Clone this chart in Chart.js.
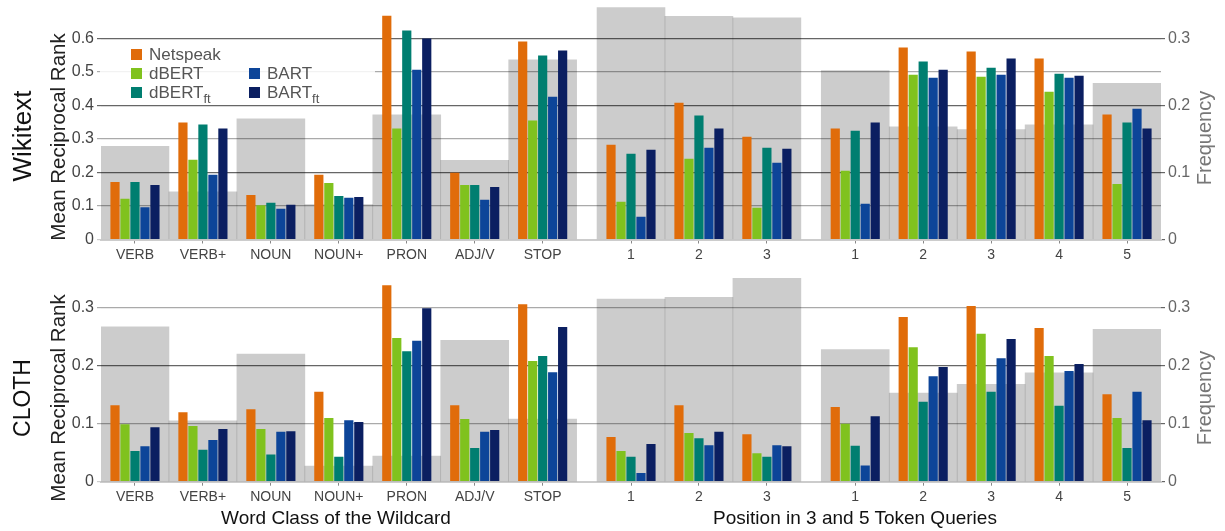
<!DOCTYPE html>
<html>
<head>
<meta charset="utf-8">
<title>MRR per word class and wildcard position</title>
<script src="https://cdn.jsdelivr.net/npm/chart.js@4.4.0/dist/chart.umd.min.js"></script>
<style>
    body { margin: 0; background: #fff; font-family: 'Liberation Sans', Arial, Helvetica, sans-serif; }
    #figure { position: relative; width: 1225px; height: 531px; overflow: hidden; }
    .panel { position: absolute; left: 0; width: 1225px; }
    #panelTop { top: 0; height: 262px; }
    #panelBottom { top: 262px; height: 269px; }
    .label { position: absolute; white-space: nowrap; line-height: 1; transform: translate(-50%, -50%); z-index: 2; }
    .label.rot { transform: translate(-50%, -50%) rotate(-90deg); }
    #legend {
        position: absolute; left: 100px; top: 42px; width: 275px; height: 58px;
        box-sizing: border-box; padding: 3px 0 0 31px;
        background: rgba(255, 255, 255, 0.85);
        display: grid; grid-template-columns: 118px auto; grid-template-rows: repeat(3, 19px);
        z-index: 2;
    }
    .item { display: flex; align-items: center; font-size: 17px; color: #555; line-height: 19px; }
    .swatch { width: 11px; height: 11px; margin-right: 7px; flex: none; }
    .item sub { font-size: 13px; line-height: 0; vertical-align: -5px; }
</style>
</head>
<body>
<div id="figure">
    <div class="panel" id="panelTop"><canvas id="wikiChart"></canvas></div>
    <div class="panel" id="panelBottom"><canvas id="clothChart"></canvas></div>
    <div id="legend"></div>
</div>
<script>
// x categories
const wordClasses = ['VERB', 'VERB+', 'NOUN', 'NOUN+', 'PRON', 'ADJ/V', 'STOP'];
const tokens3 = ['1', '2', '3'];
const tokens5 = ['1', '2', '3', '4', '5'];

// series
const seriesNames = ['Netspeak', 'dBERT', 'dBERT', 'BART', 'BART'];
const seriesSubs = ['', '', 'ft', '', 'ft'];
const seriesColors = ['#e06c0a', '#80c21e', '#007e70', '#0d4599', '#0b1f61'];

// Wikitext: 7 word classes, then positions in 3 and 5 token queries
const wikiNetspeak = [0.172, 0.349, 0.133, 0.193, 0.668, 0.199, 0.591, 0.283, 0.408, 0.307, 0.331, 0.573, 0.561, 0.540, 0.373];
const wikiDbert    = [0.122, 0.238, 0.102, 0.169, 0.331, 0.163, 0.355, 0.113, 0.241, 0.095, 0.205, 0.492, 0.486, 0.441, 0.166];
const wikiDbertFt  = [0.172, 0.343, 0.110, 0.130, 0.624, 0.163, 0.549, 0.256, 0.370, 0.274, 0.325, 0.531, 0.513, 0.495, 0.349];
const wikiBart     = [0.096, 0.193, 0.092, 0.125, 0.507, 0.119, 0.426, 0.068, 0.274, 0.229, 0.107, 0.483, 0.492, 0.483, 0.390];
const wikiBartFt   = [0.163, 0.331, 0.104, 0.127, 0.600, 0.157, 0.564, 0.268, 0.331, 0.271, 0.349, 0.507, 0.540, 0.489, 0.331];
const wikiFreq     = [0.139, 0.071, 0.180, 0.052, 0.186, 0.118, 0.268, 0.346, 0.333, 0.331, 0.252, 0.168, 0.164, 0.171, 0.233];

// CLOTH
const clothNetspeak = [0.132, 0.120, 0.125, 0.155, 0.339, 0.132, 0.306, 0.077, 0.132, 0.082, 0.129, 0.284, 0.303, 0.265, 0.151];
const clothDbert    = [0.099, 0.096, 0.091, 0.110, 0.248, 0.108, 0.208, 0.053, 0.084, 0.049, 0.100, 0.232, 0.255, 0.217, 0.110];
const clothDbertFt  = [0.053, 0.055, 0.047, 0.043, 0.225, 0.058, 0.217, 0.043, 0.075, 0.043, 0.062, 0.138, 0.155, 0.131, 0.058];
const clothBart     = [0.061, 0.072, 0.086, 0.106, 0.243, 0.086, 0.189, 0.015, 0.063, 0.063, 0.028, 0.182, 0.213, 0.191, 0.155];
const clothBartFt   = [0.094, 0.091, 0.087, 0.103, 0.299, 0.089, 0.267, 0.065, 0.086, 0.061, 0.113, 0.198, 0.246, 0.203, 0.106];
const clothFreq     = [0.267, 0.105, 0.220, 0.027, 0.044, 0.244, 0.108, 0.315, 0.318, 0.351, 0.228, 0.153, 0.168, 0.188, 0.263];

// gap between the three groups, in category widths
const groupGap = 0.3;
const positions = [
    ...wordClasses.map((_, i) => i),
    ...tokens3.map((_, i) => wordClasses.length + groupGap + i),
    ...tokens5.map((_, i) => wordClasses.length + tokens3.length + 2 * groupGap + i)
];
const tickLabels = [...wordClasses, ...tokens3, ...tokens5];

Chart.defaults.font.family = "'Liberation Sans', Arial, Helvetica, sans-serif";
Chart.defaults.color = '#444';

// even tenths darker, odd tenths lighter
function gridColor(ctx) {
    const v = Math.round(ctx.tick.value * 10);
    if (v === 0) return '#ccc';
    return v % 2 === 0 ? '#666' : '#aaa';
}

function noPadding(scale) {
    scale.paddingTop = 0;
    scale.paddingBottom = 0;
    scale.paddingLeft = 0;
    scale.paddingRight = 0;
}

function makePanel(canvasId, series, freq, cfg) {
    const datasets = series.map((values, i) => ({
        label: seriesNames[i] + seriesSubs[i],
        data: positions.map((x, j) => ({ x: x, y: values[j] })),
        backgroundColor: seriesColors[i],
        categoryPercentage: 0.735,
        barPercentage: 0.92,
        yAxisID: 'y',
        order: 0
    }));
    datasets.push({
        label: 'Frequency',
        data: positions.map((x, j) => ({ x: x, y: freq[j] })),
        backgroundColor: 'rgba(0, 0, 0, 0.2)',
        grouped: false,
        categoryPercentage: 1,
        barPercentage: 1,
        yAxisID: 'y2',
        order: 1
    });

    new Chart(document.getElementById(canvasId), {
        type: 'bar',
        data: { datasets: datasets },
        options: {
            responsive: true,
            maintainAspectRatio: false,
            animation: false,
            layout: { padding: { top: cfg.padTop, left: 0, right: 0, bottom: 0 } },
            plugins: { legend: { display: false }, tooltip: { enabled: false } },
            scales: {
                x: {
                    type: 'linear',
                    min: -0.5,
                    max: positions[positions.length - 1] + 0.5,
                    offset: false,
                    grid: { offset: false, drawOnChartArea: false, tickLength: 4, color: '#888' },
                    border: { display: true, color: '#ccc', width: 2 },
                    ticks: {
                        autoSkip: false, maxRotation: 0, minRotation: 0,
                        font: { size: 14 }, color: '#444', padding: 3,
                        callback: (value, index) => tickLabels[index]
                    },
                    afterBuildTicks: scale => { scale.ticks = positions.map(v => ({ value: v })); },
                    afterFit: scale => { scale.height = cfg.xHeight; noPadding(scale); }
                },
                y: {
                    position: 'left',
                    min: 0,
                    max: cfg.yMax,
                    grid: { color: gridColor, lineWidth: 1.2, tickLength: 4 },
                    border: { display: false },
                    ticks: { stepSize: 0.1, font: { size: 16 }, color: '#444', padding: 3 },
                    afterBuildTicks: scale => { scale.ticks = scale.ticks.filter(t => t.value <= cfg.yTop + 1e-9); },
                    afterFit: scale => { scale.width = 101; noPadding(scale); }
                },
                y2: {
                    position: 'right',
                    min: 0,
                    max: cfg.y2Max,
                    grid: { drawOnChartArea: false, tickLength: 4, color: '#666', lineWidth: 1.2 },
                    border: { display: false },
                    ticks: { stepSize: 0.1, font: { size: 16 }, color: '#666', padding: 3 },
                    afterBuildTicks: scale => { scale.ticks = scale.ticks.filter(t => t.value <= 0.3 + 1e-9); },
                    afterFit: scale => { scale.width = 64; noPadding(scale); }
                }
            }
        }
    });
}

makePanel('wikiChart',
    [wikiNetspeak, wikiDbert, wikiDbertFt, wikiBart, wikiBartFt], wikiFreq,
    { yMax: 0.7, yTop: 0.6, y2Max: 0.35, padTop: 5, xHeight: 22.5 });

makePanel('clothChart',
    [clothNetspeak, clothDbert, clothDbertFt, clothBart, clothBartFt], clothFreq,
    { yMax: 0.36, yTop: 0.3, y2Max: 0.36, padTop: 11, xHeight: 49.3 });

// legend: first column Netspeak / dBERT / dBERT_ft, second column BART / BART_ft
const legendRows = [1, 2, 3, 2, 3];
const legendCols = [1, 1, 1, 2, 2];
document.getElementById('legend').innerHTML = seriesNames.map((name, i) => `
    <div class="item" style="grid-row:${legendRows[i]};grid-column:${legendCols[i]}">
        <span class="swatch" style="background:${seriesColors[i]}"></span>
        <span>${name}${seriesSubs[i] ? `<sub>${seriesSubs[i]}</sub>` : ''}</span>
    </div>`).join('');

// side and bottom titles
const outerLabels = [
    { text: 'Wikitext', x: 22, y: 136, size: 26, color: '#111', rot: true },
    { text: 'Mean Reciprocal Rank', x: 57.5, y: 136.5, size: 20.5, color: '#222', rot: true },
    { text: 'Frequency', x: 1204, y: 137.5, size: 20, color: '#777', rot: true },
    { text: 'CLOTH', x: 22, y: 398, size: 23, color: '#111', rot: true },
    { text: 'Mean Reciprocal Rank', x: 57.5, y: 397.5, size: 20.5, color: '#222', rot: true },
    { text: 'Frequency', x: 1204, y: 397.5, size: 20, color: '#777', rot: true },
    { text: 'Word Class of the Wildcard', x: 336, y: 517, size: 19, color: '#111', rot: false },
    { text: 'Position in 3 and 5 Token Queries', x: 855, y: 517, size: 19, color: '#111', rot: false }
];
const figure = document.getElementById('figure');
outerLabels.forEach(l => {
    const div = document.createElement('div');
    div.className = 'label' + (l.rot ? ' rot' : '');
    div.textContent = l.text;
    div.style.left = l.x + 'px';
    div.style.top = l.y + 'px';
    div.style.fontSize = l.size + 'px';
    div.style.color = l.color;
    figure.appendChild(div);
});
</script>
</body>
</html>
